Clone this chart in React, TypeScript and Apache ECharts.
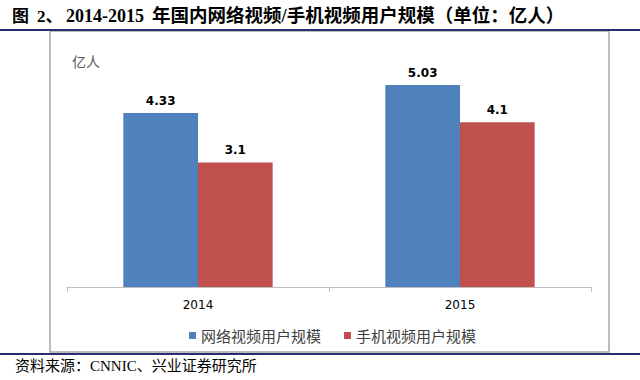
import React, { useEffect, useRef } from "react";
import * as echarts from "echarts";

const categories = ["2014", "2015"];
const seriesNames = ["网络视频用户规模", "手机视频用户规模"];
const onlineVideo = [4.33, 5.03];
const mobileVideo = [3.1, 4.1];
const titleParts = ["图", "2、", "2014-2015", "年国内网络视频/手机视频用户规模（单位：亿人）"];
const sourceText = "资料来源：CNNIC、兴业证券研究所";
const unitText = "亿人";

export default function App() {
  const ref = useRef<HTMLDivElement>(null);
  useEffect(() => {
    const chart = echarts.init(ref.current!, null, { renderer: "svg" });
    const labelStyle = {
      show: true,
      position: "top" as const,
      distance: 6,
      fontFamily: "DejaVu Sans",
      fontWeight: "bold" as const,
      fontSize: 12,
      color: "#000",
    };
    const titleFont = "Liberation Serif, Noto Sans CJK SC";
    const titleX = [12, 37, 66, 152];
    const titleSize = [17, 17, 18, 18.5];
    chart.setOption({
      animation: false,
      backgroundColor: "#fff",
      grid: { left: 67, right: 49, top: 46, bottom: 93 },
      xAxis: {
        type: "category",
        data: categories,
        axisLine: { lineStyle: { color: "#bfbfbf", width: 1 } },
        axisTick: { show: true, length: 5, lineStyle: { color: "#bfbfbf" } },
        axisLabel: {
          margin: 12,
          fontSize: 12,
          color: "#000",
          fontFamily: "DejaVu Sans",
        },
      },
      yAxis: {
        type: "value",
        min: 0,
        max: 6,
        show: false,
        splitLine: { show: false },
      },
      legend: {
        data: seriesNames,
        top: 323,
        left: 184,
        itemWidth: 7,
        itemHeight: 7,
        itemGap: 23,
        icon: "rect",
        textStyle: { fontSize: 15, color: "#404040", fontFamily: "Noto Sans CJK SC" },
      },
      series: [
        {
          name: seriesNames[0],
          type: "bar",
          data: onlineVideo,
          barGap: "0%",
          barCategoryGap: "43%",
          itemStyle: { color: "#4F81BD" },
          label: labelStyle,
        },
        {
          name: seriesNames[1],
          type: "bar",
          data: mobileVideo,
          itemStyle: { color: "#C0504D" },
          label: labelStyle,
        },
      ],
      graphic: [
        {
          type: "rect",
          shape: { x: 50, y: 31, width: 559, height: 321 },
          style: { fill: "none", stroke: "#a6a6a6", lineWidth: 1.5 },
          z: -1,
        },
        {
          type: "line",
          shape: { x1: 0, y1: 30, x2: 640, y2: 30 },
          style: { stroke: "#2b2b73", lineWidth: 2 },
        },
        {
          type: "line",
          shape: { x1: 0, y1: 354, x2: 640, y2: 354 },
          style: { stroke: "#2b2b73", lineWidth: 2 },
        },
        ...titleParts.map((t, i) => ({
          type: "text",
          x: titleX[i],
          y: 16,
          style: {
            text: t,
            fontSize: titleSize[i],
            fontWeight: "bold",
            fontFamily: titleFont,
            fill: "#000",
            verticalAlign: "middle",
          },
        })),
        {
          type: "text",
          x: 15,
          y: 366,
          style: {
            text: sourceText,
            fontSize: 15,
            fontFamily: "Liberation Serif, Noto Sans CJK SC",
            fill: "#000",
            verticalAlign: "middle",
          },
        },
        {
          type: "text",
          x: 72,
          y: 61,
          style: {
            text: unitText,
            fontSize: 14,
            fontFamily: "Noto Sans CJK SC",
            fill: "#595959",
            verticalAlign: "middle",
          },
        },
      ],
    });
    return () => chart.dispose();
  }, []);
  return (
    <div
      ref={ref}
      style={{ position: "fixed", left: 0, top: 0, width: 640, height: 380 }}
    />
  );
}
